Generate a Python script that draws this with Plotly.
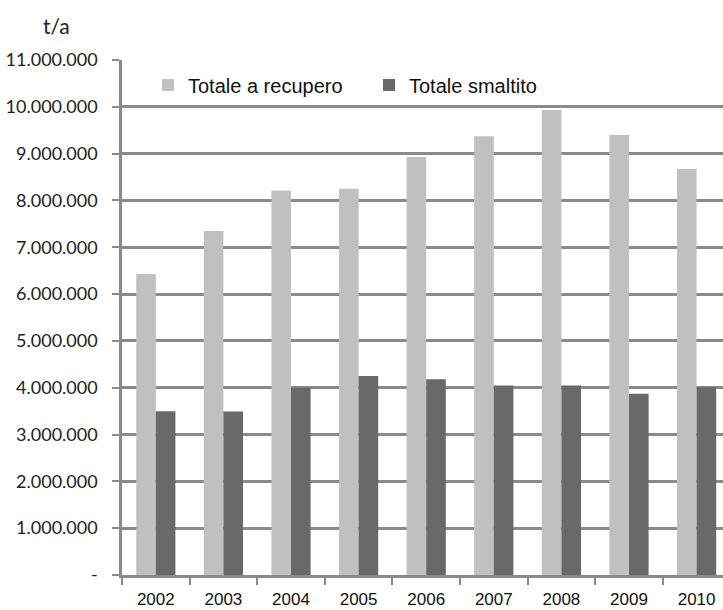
import plotly.graph_objects as go

years = ["2002", "2003", "2004", "2005", "2006", "2007", "2008", "2009", "2010"]
recupero = [6430000, 7350000, 8210000, 8250000, 8930000, 9370000, 9930000, 9400000, 8670000]
smaltito = [3500000, 3490000, 4000000, 4250000, 4180000, 4050000, 4050000, 3870000, 4010000]
ytick_vals = [0, 1000000, 2000000, 3000000, 4000000, 5000000, 6000000, 7000000, 8000000, 9000000, 10000000, 11000000]
ytick_text = ["-", "1.000.000", "2.000.000", "3.000.000", "4.000.000", "5.000.000", "6.000.000",
              "7.000.000", "8.000.000", "9.000.000", "10.000.000", "11.000.000"]

W, H = 723, 610
ML, MR, MT, MB = 122, 0, 60, 35
PW, PH = W - ML - MR, H - MT - MB
cat_px = 67.6

fig = go.Figure()
fig.add_trace(go.Bar(x=years, y=recupero, name="Totale a recupero", marker_color="#c0c0c0",
                     marker_line_width=0))
fig.add_trace(go.Bar(x=years, y=smaltito, name="Totale smaltito", marker_color="#696969",
                     marker_line_width=0))

grid = "#8a8a8a"
fig.update_layout(
    width=W, height=H,
    margin=dict(l=ML, r=MR, t=MT, b=MB, autoexpand=False),
    paper_bgcolor="white", plot_bgcolor="white",
    barmode="group", bargap=0.42, bargroupgap=0,
    showlegend=True,
    legend=dict(orientation="h", x=(148 - ML) / PW, y=(H - MB - 85) / PH, xanchor="left", yanchor="middle",
                bgcolor="rgba(0,0,0,0)", font=dict(family="Liberation Sans, Arial", size=20, color="#111"),
                itemwidth=30, traceorder="normal", entrywidth=176, entrywidthmode="pixels"),
    xaxis=dict(type="category", range=[-0.5, -0.5 + PW / cat_px], showgrid=False, automargin=False,
               showline=True, linecolor=grid, linewidth=2.5,
               ticks="outside", tickson="boundaries", ticklen=7, tickwidth=2, tickcolor=grid,
               ticklabelstandoff=7,
               tickfont=dict(family="Liberation Sans, Arial", size=17, color="#111")),
    yaxis=dict(range=[0, 11000000], tickvals=ytick_vals, ticktext=ytick_text, automargin=False,
               showgrid=True, gridcolor=grid, gridwidth=2.5,
               showline=True, linecolor=grid, linewidth=2.5, zeroline=False,
               ticks="outside", ticklen=7, tickwidth=2, tickcolor=grid,
               ticklabelstandoff=11,
               tickfont=dict(family="Lato, Open Sans, sans-serif", size=18, color="#222")),
    annotations=[dict(text="t/a", x=(56 - ML) / PW, y=(H - MB - 26) / PH, xref="paper", yref="paper",
                      showarrow=False, xanchor="center", yanchor="middle",
                      font=dict(family="Lato, Open Sans, sans-serif", size=21, color="#222"))],
)

fig.write_html("out.html", config={"displayModeBar": False},
               post_script="document.body.style.margin='0';")
